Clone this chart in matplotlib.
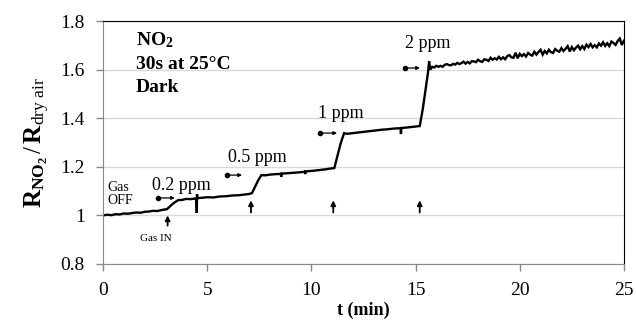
import matplotlib
matplotlib.use("Agg")
import matplotlib.pyplot as plt

plt.rcParams['font.family'] = ['Liberation Serif', 'DejaVu Serif']
plt.rcParams['mathtext.fontset'] = 'custom'
plt.rcParams['mathtext.rm'] = 'Liberation Serif'
plt.rcParams['mathtext.bf'] = 'Liberation Serif:bold'
plt.rcParams['mathtext.it'] = 'Liberation Serif:italic'

# sensor response trace, time in minutes
t_min = [0.0, 0.2, 0.4, 0.6, 0.8, 1.0, 1.2, 1.4, 1.6, 1.8, 2.0, 2.2, 2.4, 2.6, 2.8, 3.07,
         3.2, 3.35, 3.5, 3.6,
         3.8, 4.0, 4.2, 4.48, 4.5, 4.51, 4.53, 4.8, 5.0, 5.3, 5.6, 5.9, 6.2, 6.5, 6.8, 7.0, 7.15,
         7.3, 7.45, 7.6,
         7.8, 8.0, 8.3, 8.54, 8.55, 8.56, 8.9, 9.2, 9.5, 9.69, 9.7, 9.71, 10.1, 10.4, 10.7, 10.9, 11.1,
         11.25, 11.4, 11.57,
         11.7, 11.9, 12.2, 12.5, 12.8, 13.1, 13.4, 13.7, 14.0, 14.28, 14.3, 14.32, 14.6, 14.9, 15.2,
         15.35, 15.5, 15.6, 15.65, 15.7, 15.8, 15.9,
         16.0, 16.1, 16.2, 16.3, 16.4, 16.5, 16.6, 16.7, 16.8, 16.9,
         17.0, 17.1, 17.2, 17.3, 17.4, 17.5, 17.6, 17.7, 17.8, 17.9,
         18.0, 18.1, 18.2, 18.3, 18.4, 18.5, 18.6, 18.7, 18.8, 18.9,
         19.0, 19.1, 19.2, 19.3, 19.4, 19.5, 19.6, 19.7, 19.8, 19.9,
         20.0, 20.1, 20.2, 20.3, 20.4, 20.5, 20.6, 20.7, 20.8, 20.9,
         21.0, 21.1, 21.2, 21.3, 21.4, 21.5, 21.6, 21.7, 21.8, 21.9,
         22.0, 22.1, 22.2, 22.3, 22.4, 22.5, 22.6, 22.7, 22.8, 22.9,
         23.0, 23.1, 23.2, 23.3, 23.4, 23.5, 23.6, 23.7, 23.8, 23.9,
         24.0, 24.1, 24.2, 24.3, 24.4, 24.5, 24.6, 24.7, 24.8, 24.9,
         25.0]
ratio = [1.000, 1.003, 1.001, 1.005, 1.004, 1.008, 1.007, 1.010, 1.012, 1.011, 1.015, 1.016, 1.019, 1.018, 1.022, 1.026,
         1.036, 1.048, 1.057, 1.063,
         1.064, 1.068, 1.067, 1.070, 1.010, 1.088, 1.071, 1.073, 1.075, 1.074, 1.078, 1.079, 1.082, 1.083, 1.086, 1.088, 1.092,
         1.118, 1.145, 1.166,
         1.165, 1.168, 1.170, 1.171, 1.158, 1.172, 1.174, 1.176, 1.178, 1.180, 1.170, 1.181, 1.184, 1.187, 1.190, 1.193, 1.195,
         1.245, 1.295, 1.339,
         1.336, 1.338, 1.341, 1.344, 1.347, 1.350, 1.353, 1.355, 1.358, 1.359, 1.335, 1.360, 1.362, 1.365, 1.368,
         1.440, 1.530, 1.590, 1.635, 1.600, 1.612, 1.609,
         1.616, 1.612, 1.616, 1.612, 1.620, 1.623, 1.619, 1.618, 1.624, 1.621,
         1.628, 1.623, 1.627, 1.633, 1.625, 1.632, 1.626, 1.635, 1.634, 1.631,
         1.641, 1.635, 1.632, 1.643, 1.641, 1.636, 1.649, 1.641, 1.647, 1.642,
         1.653, 1.643, 1.651, 1.643, 1.656, 1.660, 1.651, 1.649, 1.670, 1.647,
         1.665, 1.656, 1.664, 1.654, 1.669, 1.662, 1.658, 1.674, 1.662, 1.673,
         1.682, 1.662, 1.677, 1.667, 1.682, 1.672, 1.669, 1.685, 1.678, 1.674,
         1.689, 1.677, 1.686, 1.697, 1.675, 1.693, 1.680, 1.691, 1.699, 1.684,
         1.697, 1.685, 1.703, 1.693, 1.706, 1.692, 1.701, 1.692, 1.708, 1.699,
         1.713, 1.698, 1.709, 1.697, 1.716, 1.710, 1.702, 1.718, 1.728, 1.702,
         1.719]

# gas injection times (min)
gas_in_times = [3.1, 7.1, 11.05, 15.2]

# concentration steps: label, arrow start/end (min), arrow level, label position
conc_labels = ['0.2 ppm', '0.5 ppm', '1 ppm', '2 ppm']
arrow_start = [2.64, 5.95, 10.41, 14.49]
arrow_end = [3.45, 6.67, 11.23, 15.21]
arrow_level = [1.072, 1.166, 1.339, 1.607]
label_t = [3.74, 7.39, 11.42, 15.6]
label_r = [1.125, 1.24, 1.421, 1.709]

yticks = [0.8, 1.0, 1.2, 1.4, 1.6, 1.8]
ytick_labels = ['0.8', '1', '1.2', '1.4', '1.6', '1.8']
xticks = [0, 5, 10, 15, 20, 25]

fig = plt.figure(figsize=(6.36, 3.2), dpi=100)
ax = fig.add_axes([0.162, 0.175, 0.819, 0.759])

ax.plot(t_min, ratio, color='black', lw=1.7, solid_joinstyle='miter')

# upward arrows marking gas injection
for i, t in enumerate(gas_in_times):
    lo, hi = (0.958, 1.0) if i == 0 else (1.012, 1.062)
    ax.annotate('', xy=(t, hi), xytext=(t, lo),
                arrowprops=dict(arrowstyle='-|>', color='black', lw=1.3,
                                mutation_scale=7, shrinkA=0, shrinkB=0))

# dot-and-arrow markers with concentration labels
for lab, a0, a1, lev, lt, lr in zip(conc_labels, arrow_start, arrow_end,
                                    arrow_level, label_t, label_r):
    ax.plot([a0], [lev], 'o', color='black', ms=3)
    ax.annotate('', xy=(a1, lev), xytext=(a0, lev),
                arrowprops=dict(arrowstyle='-|>', color='black', lw=0.9,
                                mutation_scale=5, shrinkA=0, shrinkB=0))
    ax.text(lt, lr, lab, fontsize=13, ha='center', va='center')

ax.text(0.19, 1.117, 'Gas', fontsize=10, ha='left', va='center')
ax.text(0.19, 1.063, 'OFF', fontsize=10, ha='left', va='center')
ax.text(2.54, 0.907, 'Gas IN', fontsize=8, ha='center', va='center')

ax.text(1.58, 1.72, r'$\mathbf{NO_2}$', fontsize=14, ha='left', va='center')
ax.text(1.58, 1.623, '30s at 25°C', fontsize=14, fontweight='bold', ha='left', va='center')
ax.text(1.58, 1.528, 'Dark', fontsize=14, fontweight='bold', ha='left', va='center')

ax.set_xlim(0, 25)
ax.set_ylim(0.8, 1.8)
ax.set_xticks(xticks)
ax.set_yticks(yticks)
ax.set_yticklabels(ytick_labels)
ax.grid(axis='y', color='#d9d9d9', lw=1)
ax.set_axisbelow(True)

ax.tick_params(axis='both', direction='out', length=5, width=1, color='#888888',
               labelsize=14, pad=8)
for side in ('left', 'bottom'):
    ax.spines[side].set_color('#888888')
for side in ('top', 'right'):
    ax.spines[side].set_color('black')

ax.set_xlabel('t (min)', fontsize=13, fontweight='bold', labelpad=2)
ax.set_ylabel(r'$\mathbf{R}_{\mathbf{NO_2}}\,/\,\mathbf{R}_{\mathrm{dry\ air}}$', fontsize=18, labelpad=6)

fig.savefig('out.png', dpi=100)
